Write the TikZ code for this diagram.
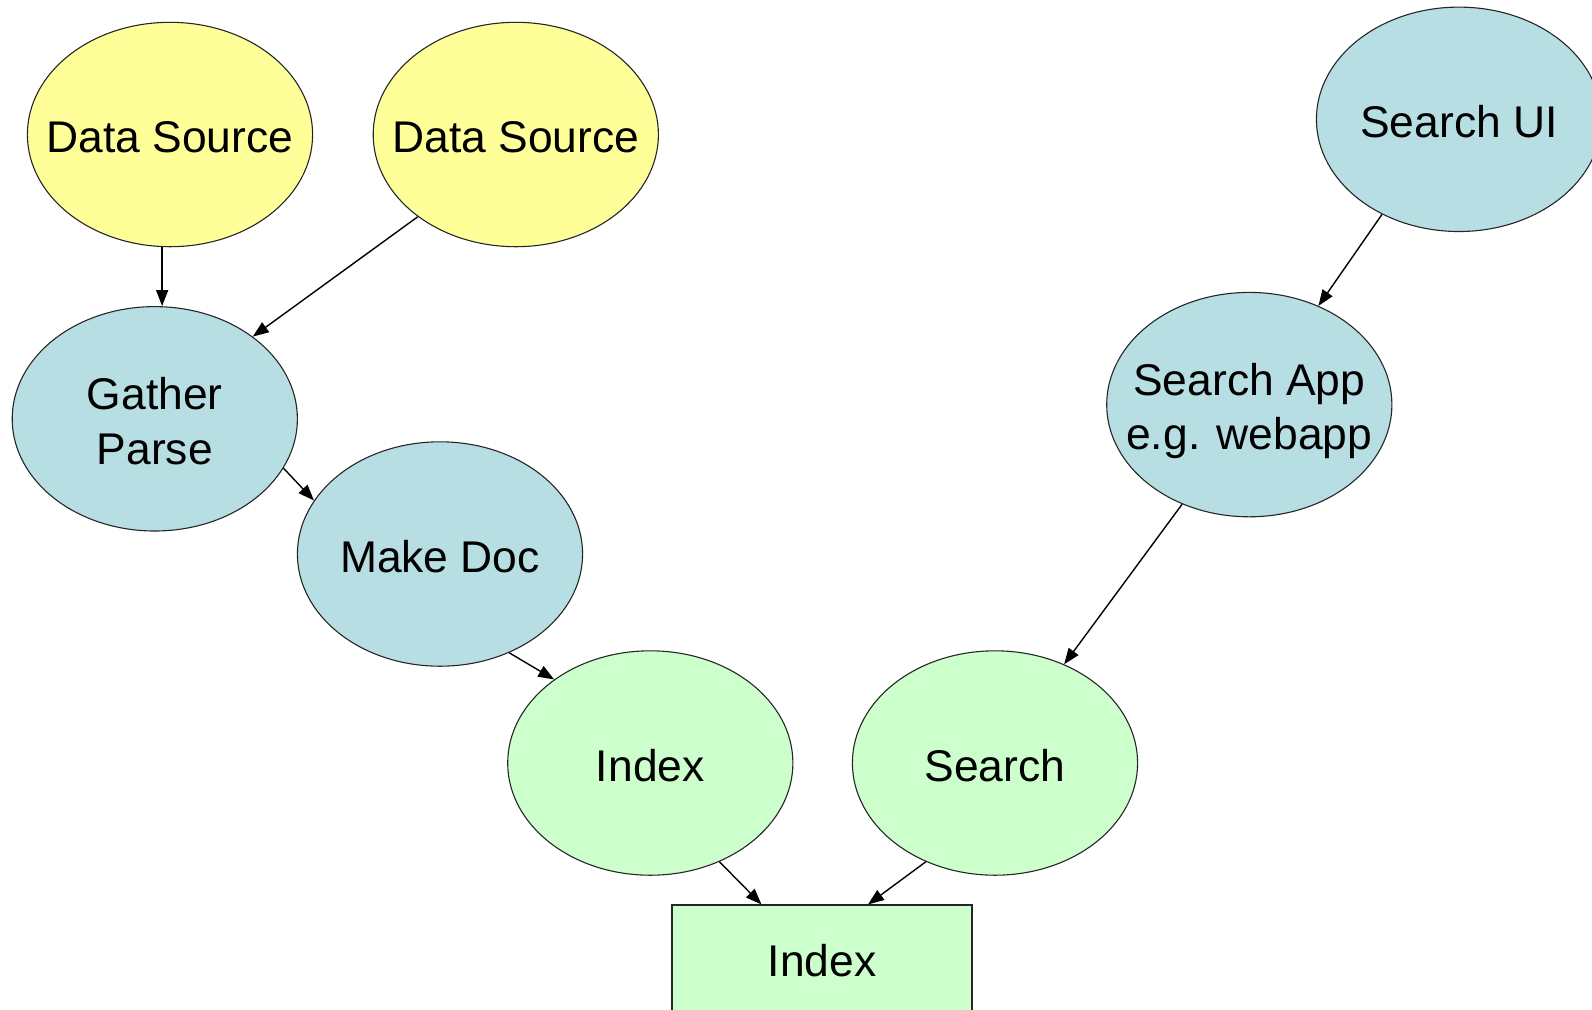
\documentclass[tikz,border=0pt]{standalone}
\usepackage{fontspec}
\setmainfont{Liberation Sans}
\usetikzlibrary{shapes.geometric,arrows.meta,calc}
\definecolor{srcyellow}{HTML}{FFFF99}
\definecolor{procblue}{HTML}{B7DEE2}
\definecolor{idxgreen}{HTML}{CCFFCC}
% label text that does not widen its ellipse, set a little below centre
\newcommand\blobtext[1]{\makebox[0pt]{\raisebox{-3.6pt}[\height][\depth]{\begin{tabular}{@{}c@{}}#1\end{tabular}}}}
\begin{document}
\begin{tikzpicture}[x=0.5pt,y=-0.5pt,
  blob/.style={ellipse,draw=black!85,line width=0.55pt,inner sep=0pt,
    minimum width=142.6pt,minimum height=112.2pt,
    font=\fontsize{22.2}{27.2}\selectfont},
  source/.style={blob,fill=srcyellow},
  proc/.style={blob,fill=procblue},
  idx/.style={blob,fill=idxgreen},
  store/.style={rectangle,draw=black!85,line width=0.55pt,fill=idxgreen,
    minimum width=150pt,minimum height=55.5pt,inner sep=0pt,
    font=\fontsize{22.2}{27.2}\selectfont},
  flow/.style={draw=black,line width=0.7pt,-{Triangle[length=8pt,width=6pt]}}]
\useasboundingbox (0,0) rectangle (1592,1009);
\fill[white] (0,0) rectangle (1592,1009);

% indexing side
\node[source] (ds1) at (170,134.5) {\blobtext{Data Source}};
\node[source] (ds2) at (515.8,134.5) {\blobtext{Data Source}};
\node[proc] (gp) at (154.8,418.8) {\blobtext{Gather\\Parse}};
\node[proc] (md) at (440,554) {\blobtext{Make Doc}};
\node[idx] (ie) at (650.3,763) {\blobtext{Index}};

% search side
\node[proc] (ui) at (1459,119.3) {\blobtext{Search UI}};
\node[proc] (app) at (1249.3,404.6) {\blobtext{Search App\\e.g. webapp}};
\node[idx] (se) at (995,763) {\blobtext{Search}};

% shared index store
\node[store] (ix) at (822,960.5) {Index};

% connectors
\draw[flow] (ds1.-94) -- (ds1.-94 |- gp.north);
\draw[flow] (ds2.220) -- (gp.40);
\draw[flow] (gp.-21.7) -- (md.157);
\draw[flow] (md.-55) -- (ie.139.8);
\draw[flow] (ie.-55.4) -- ($(ix.north)+(-60.5,0)$);
\draw[flow] (se.-125.1) -- ($(ix.north)+(46,0)$);
\draw[flow] (app.-124.7) -- (se.55);
\draw[flow] (ui.-129.6) -- (app.55.6);
\end{tikzpicture}
\end{document}
